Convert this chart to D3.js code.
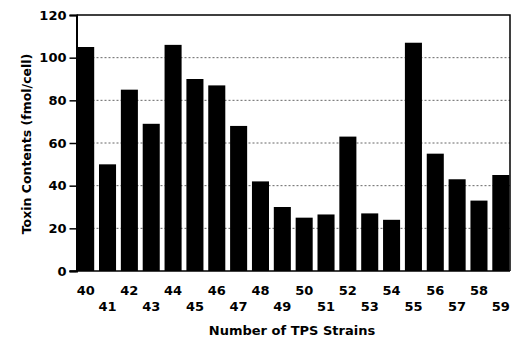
<!DOCTYPE html>
<html>
<head>
<meta charset="utf-8">
<script src="https://cdn.jsdelivr.net/npm/d3@7"></script>
<style>
  body { margin: 0; background: #fff; }
  text { font-family: "DejaVu Sans", Arial, sans-serif; font-weight: bold; fill: #000; }
</style>
</head>
<body>
<div id="vis"></div>
<script>
// Chart data
const STRAINS = ["40","41","42","43","44","45","46","47","48","49",
                 "50","51","52","53","54","55","56","57","58","59"];
const TOXIN = [105, 50, 85, 69, 106, 90, 87, 68, 42, 30,
               25, 26.5, 63, 27, 24, 107, 55, 43, 33, 45];
const Y_TICKS = [0, 20, 40, 60, 80, 100, 120];

const FRAME_WIDTH = 512;
const FRAME_HEIGHT = 339;
const MARGINS = {left: 76.5, right: 2, top: 15, bottom: 68};

const FRAME = d3.select("#vis")
  .append("svg")
    .attr("width", FRAME_WIDTH)
    .attr("height", FRAME_HEIGHT);

const X_SCALE = d3.scaleBand()
  .domain(STRAINS)
  .range([MARGINS.left, FRAME_WIDTH - MARGINS.right])
  .paddingInner(0.22)
  .paddingOuter(0.03);

const Y_SCALE = d3.scaleLinear()
  .domain([0, 120])
  .range([FRAME_HEIGHT - MARGINS.bottom, MARGINS.top]);

const RIGHT = FRAME_WIDTH - MARGINS.right;

// dotted gridlines
FRAME.selectAll(".grid")
  .data(Y_TICKS.filter(d => d > 0 && d < 120))
  .enter()
  .append("line")
    .attr("x1", MARGINS.left)
    .attr("x2", RIGHT)
    .attr("y1", d => Y_SCALE(d))
    .attr("y2", d => Y_SCALE(d))
    .attr("stroke", "#666")
    .attr("stroke-width", 1)
    .attr("stroke-dasharray", "2,2");

// bars
FRAME.selectAll(".bar")
  .data(TOXIN)
  .enter()
  .append("rect")
    .attr("x", (d, i) => X_SCALE(STRAINS[i]))
    .attr("y", d => Y_SCALE(d))
    .attr("width", X_SCALE.bandwidth())
    .attr("height", d => Y_SCALE(0) - Y_SCALE(d))
    .attr("fill", "#000");

// frame top and right
FRAME.append("path")
  .attr("d", "M" + MARGINS.left + "," + Y_SCALE(120) + "H" + RIGHT + "V" + Y_SCALE(0))
  .attr("fill", "none")
  .attr("stroke", "#000")
  .attr("stroke-width", 1.5);

// y axis
const yAxis = FRAME.append("g")
  .attr("transform", "translate(" + MARGINS.left + ",0)")
  .call(d3.axisLeft(Y_SCALE).tickValues(Y_TICKS).tickSize(7).tickPadding(3));
yAxis.select(".domain").attr("stroke-width", 2);
yAxis.selectAll("line").attr("stroke-width", 1.5);
yAxis.selectAll("text")
  .attr("font-size", "13px")
  .attr("font-family", "'DejaVu Sans', Arial, sans-serif")
  .attr("font-weight", "bold")
  .attr("fill", "#000");

// x axis line
FRAME.append("line")
  .attr("x1", MARGINS.left - 7)
  .attr("x2", RIGHT)
  .attr("y1", Y_SCALE(0))
  .attr("y2", Y_SCALE(0))
  .attr("stroke", "#000")
  .attr("stroke-width", 1.5);

// staggered x labels
FRAME.selectAll(".xlab")
  .data(STRAINS)
  .enter()
  .append("text")
    .attr("x", d => X_SCALE(d) + X_SCALE.bandwidth() / 2)
    .attr("y", (d, i) => i % 2 === 0 ? 295 : 311)
    .attr("text-anchor", "middle")
    .attr("font-size", "13px")
    .text(d => d);

// axis titles
FRAME.append("text")
  .attr("x", 292)
  .attr("y", 335)
  .attr("text-anchor", "middle")
  .attr("font-size", "13px")
  .text("Number of TPS Strains");

FRAME.append("text")
  .attr("transform", "translate(31,144) rotate(-90)")
  .attr("text-anchor", "middle")
  .attr("font-size", "12.5px")
  .text("Toxin Contents (fmol/cell)");
</script>
</body>
</html>
